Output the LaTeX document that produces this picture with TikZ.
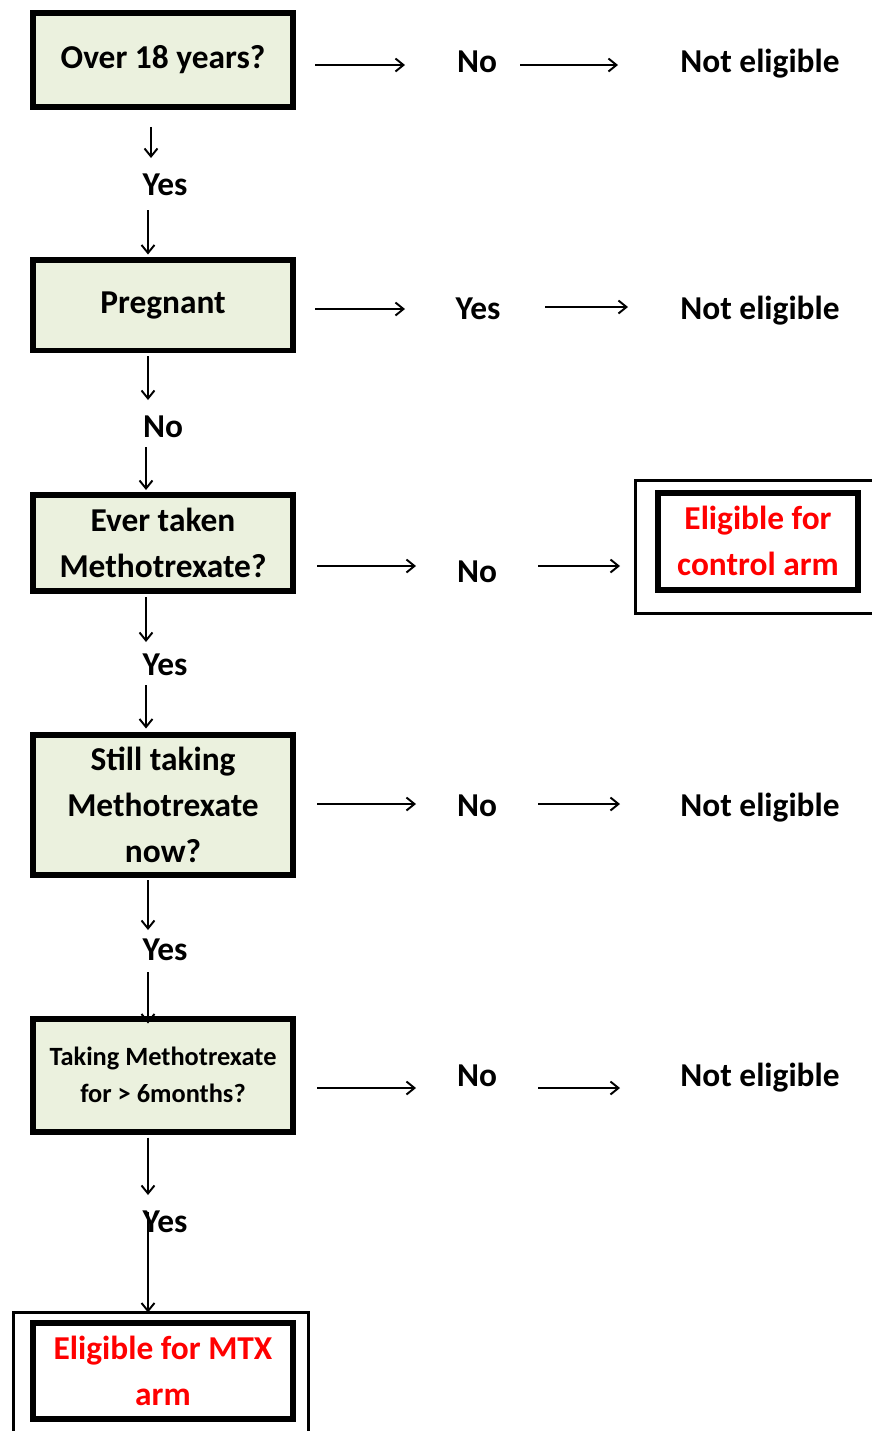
\documentclass[tikz,border=0pt]{standalone}
\usepackage{fontspec}
\setmainfont{Carlito}
\usetikzlibrary{positioning,arrows.meta,calc}
\definecolor{boxgreen}{HTML}{EBF1DE}
\definecolor{armred}{HTML}{FF0000}

\begin{document}
\begin{tikzpicture}[
  x=0.02cm, y=-0.02cm,
  qbox/.style={draw, line width=0.12cm, fill=boxgreen, minimum width=5.22cm, minimum height=1.88cm, align=center, inner sep=2pt, font=\bfseries\fontsize{19}{26}\selectfont},
  armbox/.style={draw, line width=0.12cm, fill=white, align=center, inner sep=2pt, text=armred, font=\bfseries\fontsize{19}{26}\selectfont},
  frame/.style={draw, line width=0.06cm, inner sep=0pt},
  lbl/.style={inner sep=0pt, text height=12pt, text depth=0pt, font=\bfseries\fontsize{19}{23}\selectfont},
  arr/.style={-{Straight Barb[length=0.16cm,width=0.26cm]}, line width=1.1pt}
]
  \useasboundingbox (0,0) rectangle (872,1431);

  % Question boxes
  \node[qbox] (q1) at (163, 60) {Over 18 years?};
  \node[qbox, minimum height=1.82cm] (q2) at (163, 305) {Pregnant};
  \node[qbox, minimum height=1.92cm] (q3) at (163, 543) {Ever taken\\Methotrexate?};
  \node[qbox, minimum height=2.82cm] (q4) at (163, 805) {Still taking\\Methotrexate\\now?};
  \node[qbox, minimum height=2.26cm, font=\bfseries\fontsize{15}{21}\selectfont] (q5) at (163, 1075) {Taking Methotrexate\\for > 6months?};

  % Outcome boxes
  \node[frame, minimum width=5.06cm, minimum height=2.66cm] (ctlframe) at (762, 547) {};
  \node[armbox, minimum width=4.02cm, minimum height=1.94cm] (ctl) at (758, 541) {Eligible for\\control arm};
  \node[frame, minimum width=5.9cm, minimum height=2.72cm] (mtxframe) at (161, 1380) {};
  \node[armbox, minimum width=5.22cm, minimum height=1.92cm] (mtx) at (163, 1371) {Eligible for MTX\\arm};

  % Answers on the right
  \node[lbl] (a1) at (477, 62) {No};
  \node[lbl] (e1) at (760, 62) {Not eligible};
  \node[lbl] (a2) at (478, 309) {Yes};
  \node[lbl] (e2) at (760, 309) {Not eligible};
  \node[lbl] (a3) at (477, 572) {No};
  \node[lbl] (a4) at (477, 806) {No};
  \node[lbl] (e4) at (760, 806) {Not eligible};
  \node[lbl] (a5) at (477, 1076) {No};
  \node[lbl] (e5) at (760, 1076) {Not eligible};

  % Answers going down
  \node[lbl] (y1) at (165, 185) {Yes};
  \node[lbl] (y2) at (163, 427) {No};
  \node[lbl] (y3) at (165, 665) {Yes};
  \node[lbl] (y4) at (165, 950) {Yes};
  \node[lbl] (y5) at (165, 1222) {Yes};

  % Arrows to the right
  \draw[arr] ($(q1.east)+(19,5)$) -- ($(a1)+(-72,3)$);
  \draw[arr] ($(a1)+(43,3)$) -- ($(e1)+(-142,3)$);
  \draw[arr] ($(q2.east)+(19,4)$) -- ($(a2)+(-73,0)$);
  \draw[arr] ($(a2)+(67,-2)$) -- ($(e2)+(-132,-2)$);
  \draw[arr] ($(q3.east)+(21,23)$) -- ($(a3)+(-61,-6)$);
  \draw[arr] ($(a3)+(61,-6)$) -- ($(ctlframe.west)+(-14,19)$);
  \draw[arr] ($(q4.east)+(21,-1)$) -- ($(a4)+(-61,-2)$);
  \draw[arr] ($(a4)+(61,-2)$) -- ($(e4)+(-140,-2)$);
  \draw[arr] ($(q5.east)+(21,13)$) -- ($(a5)+(-61,12)$);
  \draw[arr] ($(a5)+(61,12)$) -- ($(e5)+(-140,12)$);

  % Arrows going down
  \draw[arr] ($(q1.south)+(-12,17)$) -- ($(y1)+(-14,-27)$);
  \draw[arr] ($(y1)+(-17,25)$) -- ($(q2.north)+(-15,-2)$);
  \draw[arr] ($(q2.south)+(-15,3)$) -- ($(y2)+(-15,-27)$);
  \draw[arr] ($(y2)+(-17,20)$) -- ($(q3.north)+(-17,-2)$);
  \draw[arr] ($(q3.south)+(-17,3)$) -- ($(y3)+(-19,-23)$);
  \draw[arr] ($(y3)+(-19,20)$) -- ($(q4.north)+(-17,-3)$);
  \draw[arr] ($(q4.south)+(-15,2)$) -- ($(y4)+(-17,-20)$);
  \draw[arr] ($(y4)+(-17,22)$) -- ($(q5.north)+(-15,8)$);
  \draw[arr] ($(q5.south)+(-15,3)$) -- ($(y5)+(-17,-27)$);
  \draw[arr] ($(y5)+(-17,-10)$) -- ($(mtxframe.north)+(-13,2)$);
\end{tikzpicture}
\end{document}
